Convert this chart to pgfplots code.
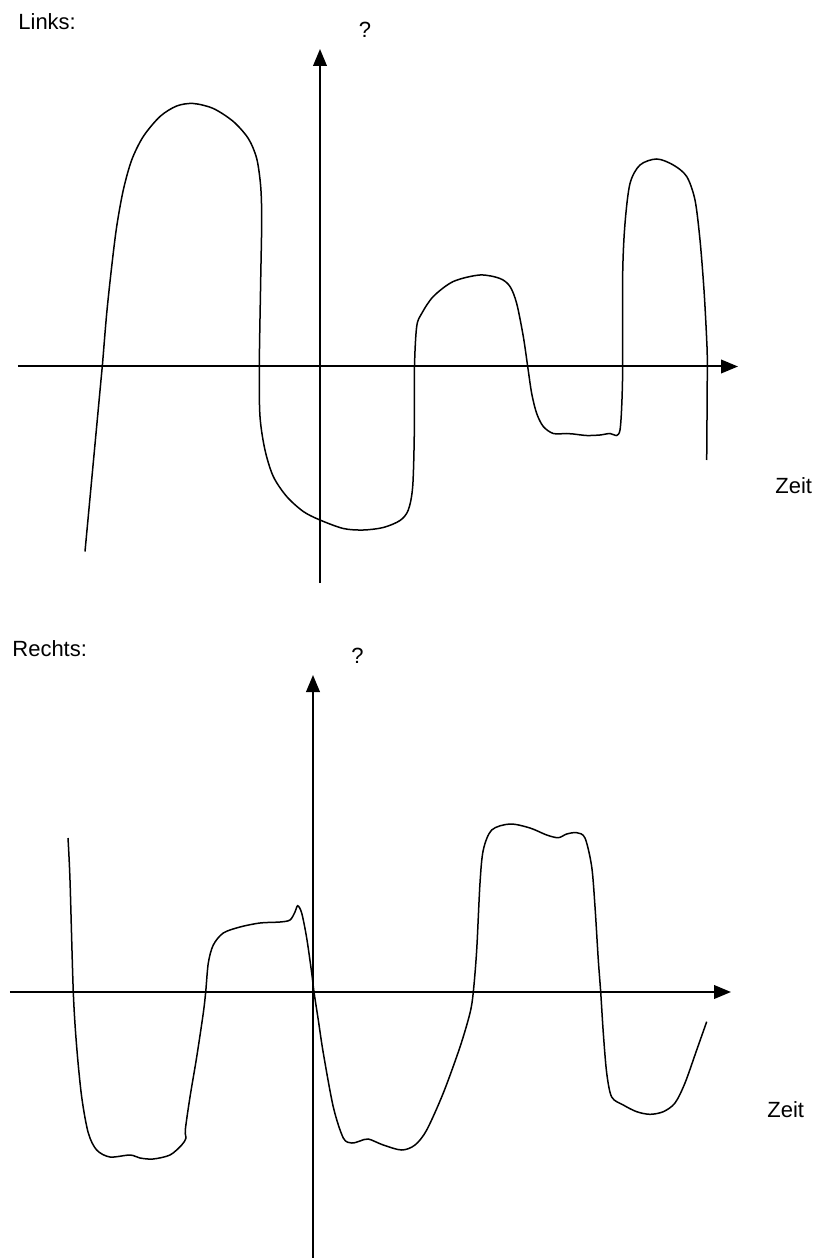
\documentclass[border=0pt]{standalone}
\usepackage{fontspec}
\setmainfont{Liberation Sans}
\usepackage{pgfplots}
\pgfplotsset{compat=1.18}
\usetikzlibrary{arrows.meta}

% 1 px of the reference = 0.5pt
\pgfplotsset{
  sketch/.style={
    axis lines=middle,
    x=0.5pt, y=0.5pt,
    enlargelimits=false,
    xtick=\empty, ytick=\empty,
    clip=false,
    anchor=origin,
    axis line style={line width=1pt, -{Triangle[length=8.5pt,width=6.8pt]}},
  },
  curve/.style={black, line width=0.75pt, smooth, tension=0.5, mark=none},
}

\begin{document}
\fontsize{11}{13}\selectfont
\begin{tikzpicture}
\useasboundingbox (-160pt,183.25pt) rectangle (248.5pt,-445.75pt);

% Links
\begin{axis}[sketch, at={(0pt,0pt)}, xmin=-302, xmax=418, ymin=-216.5, ymax=317.5]
\addplot[curve] coordinates {
(-235,-185) (-219,-13.5) (-217.7,0) (-213.3,53) (-208.3,100) (-203.3,140)
(-196.7,176.5) (-188.3,206.5) (-176.7,230) (-160,250) (-143.3,260.5)
(-126.7,263) (-106.7,258) (-86.7,245) (-71.7,228) (-63.3,208) (-59.3,180)
(-58.3,146.5) (-59.3,86.5) (-60.7,0) (-60,-50) (-55,-83.5) (-46.7,-110)
(-33.3,-130) (-16.7,-145) (0,-153.5) (23.3,-162) (43.3,-163.5) (63.3,-161)
(80,-154) (88.3,-143.5) (92.7,-120) (94.3,-67) (94.5,0) (96.7,40)
(101.7,53) (113.3,70) (133.3,85) (160,91.5) (180,88) (190,80) (196.7,63)
(203.3,30) (207.7,0) (211.7,-27) (216.7,-47) (223.3,-60) (233.3,-67)
(246.7,-67) (253.3,-67.5) (266.7,-69) (280,-68.5) (290,-67) (296.7,-69)
(300,-63.5) (301.7,-40) (302.7,0) (302.7,93) (305,143) (310,183)
(320,201.5) (336.7,207.5) (353.3,201.5) (366.7,190) (375,166.5)
(380,126.5) (384,76.5) (386.7,26.5) (387.3,0) (386.7,-93.5)
};
\end{axis}

% Rechts
\begin{axis}[sketch, at={(-3.5pt,-312.75pt)}, xmin=-303, xmax=418, ymin=-266, ymax=317]
\addplot[curve] coordinates {
(-245,154) (-243,112) (-239.7,0) (-236.3,-55) (-231.3,-105) (-224.7,-141)
(-216.3,-158) (-203,-165) (-183,-163) (-173,-166) (-160,-167) (-143,-163)
(-131.3,-153) (-127,-146) (-127.7,-138) (-123,-105) (-116.3,-65)
(-109.7,-21) (-107.3,0) (-104.7,29) (-99.7,47) (-89.7,59) (-73,65)
(-53,69) (-33,70) (-23,72) (-18,80) (-15.3,86.3) (-11.3,79) (-6.3,54)
(-1.3,19) (1,0) (5.3,-28) (10.3,-61) (20.3,-115) (30.3,-146) (38.7,-151)
(47,-149) (55.3,-147) (70.3,-153) (88.7,-158) (102,-153) (113.7,-138)
(130.3,-101) (147,-55) (157,-21) (160.3,0) (163.7,42) (167,109)
(170.3,142) (178.7,162) (197,168) (217,164) (233.7,157) (245.3,154.3)
(253.7,158) (263.7,159.3) (272,154) (278.7,125.3) (282,85.3) (285.3,32)
(287.7,0) (290.3,-41) (293.7,-81) (298.7,-105) (310.3,-113) (323.7,-119.7)
(337,-122.3) (350.3,-119.7) (362,-111) (372,-91) (383.7,-58) (393.7,-29.7)
};
\end{axis}

\node[anchor=base west, inner sep=0pt] at (-151pt,168.25pt) {Links:};
\node[anchor=base, inner sep=0pt] at (22.5pt,164.25pt) {?};
\node[anchor=base west, inner sep=0pt] at (227.5pt,-63.25pt) {Zeit};

\node[anchor=base west, inner sep=0pt] at (-154pt,-144.75pt) {Rechts:};
\node[anchor=base, inner sep=0pt] at (18.8pt,-148.25pt) {?};
\node[anchor=base west, inner sep=0pt] at (223.5pt,-375.6pt) {Zeit};
\end{tikzpicture}
\end{document}
